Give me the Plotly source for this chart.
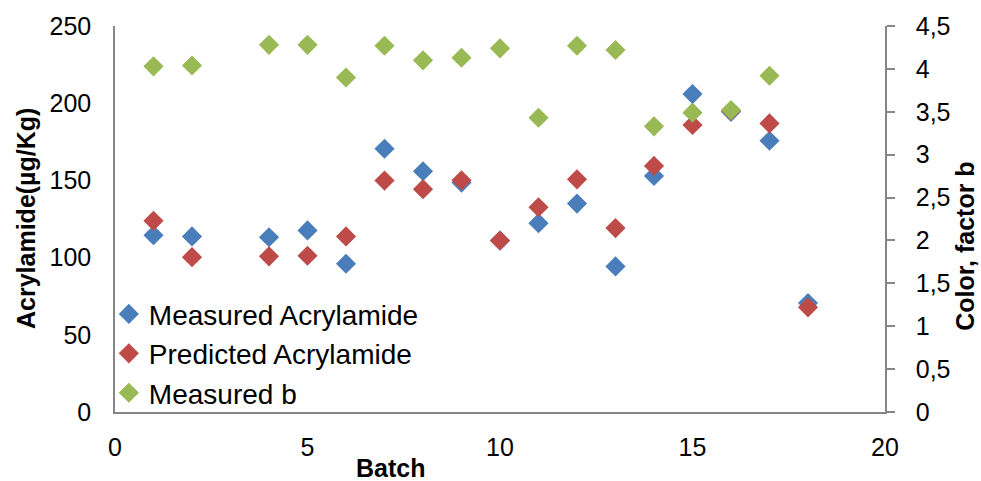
import plotly.graph_objects as go

# Batch numbers (batch 3 was not analysed)
batch = [1, 2, 4, 5, 6, 7, 8, 9, 10, 11, 12, 13, 14, 15, 16, 17, 18]
measured_acrylamide = [114.5, 113.7, 113.2, 117.6, 96.0, 170.5, 155.9, 148.6, 111.0,
                       122.3, 135.0, 94.3, 152.9, 205.9, 194.4, 175.7, 70.6]
predicted_acrylamide = [123.8, 100.3, 100.8, 101.2, 113.7, 149.9, 144.3, 150.1, 111.1,
                        132.6, 150.7, 119.1, 159.4, 185.9, 195.1, 186.9, 67.8]

# Colour factor b (no reading for batch 18)
batch_b = [1, 2, 4, 5, 6, 7, 8, 9, 10, 11, 12, 13, 14, 15, 16, 17]
measured_b = [4.03, 4.04, 4.28, 4.28, 3.90, 4.27, 4.10, 4.13, 4.24,
              3.43, 4.27, 4.22, 3.33, 3.49, 3.52, 3.92]

FONT = "Liberation Sans, Arial, sans-serif"
AXIS_GREY = "#868686"
MSIZE = 15.5

fig = go.Figure()
fig.add_trace(go.Scatter(
    x=batch, y=measured_acrylamide, mode="markers", name="Measured Acrylamide",
    marker=dict(symbol="diamond", size=MSIZE, color="#4A7EBB", line=dict(width=0)),
))
fig.add_trace(go.Scatter(
    x=batch, y=predicted_acrylamide, mode="markers", name="Predicted Acrylamide",
    marker=dict(symbol="diamond", size=MSIZE, color="#BE4B48", line=dict(width=0)),
))
fig.add_trace(go.Scatter(
    x=batch_b, y=measured_b, mode="markers", name="Measured b", yaxis="y2",
    marker=dict(symbol="diamond", size=MSIZE, color="#98B954", line=dict(width=0)),
))

fig.update_layout(
    width=981, height=481,
    margin=dict(l=115, r=96, t=24, b=69),
    paper_bgcolor="white", plot_bgcolor="white",
    separators=", ",
    font=dict(family=FONT, size=25, color="black"),
    showlegend=True,
    legend=dict(
        x=-0.008, y=0.318, xanchor="left", yanchor="top",
        bgcolor="rgba(0,0,0,0)", borderwidth=0,
        font=dict(family=FONT, size=28, color="black"),
        tracegroupgap=0, itemwidth=30,
    ),
    xaxis=dict(
        range=[0, 20], dtick=5, tick0=0,
        showgrid=False, zeroline=False,
        showline=True, linecolor=AXIS_GREY, linewidth=1.5,
        ticks="", ticklabelstandoff=12,
        tickfont=dict(family=FONT, size=25, color="black"),
    ),
    yaxis=dict(
        range=[0, 250], dtick=50, tick0=0,
        showgrid=False, zeroline=False,
        showline=True, linecolor=AXIS_GREY, linewidth=1.5,
        ticks="", ticklabelstandoff=17,
        tickfont=dict(family=FONT, size=25, color="black"),
    ),
    yaxis2=dict(
        overlaying="y", side="right",
        range=[0, 4.5], dtick=0.5, tick0=0,
        showgrid=False, zeroline=False,
        showline=True, linecolor=AXIS_GREY, linewidth=1.5,
        ticks="outside", ticklen=8, tickcolor=AXIS_GREY, tickwidth=1.5,
        ticklabelstandoff=16,
        tickfont=dict(family=FONT, size=25, color="black"),
    ),
    annotations=[
        dict(text="<b>Batch</b>", xref="paper", yref="paper",
             x=(390 - 115) / 770, y=-(468 - 412) / 388,
             xanchor="center", yanchor="middle", showarrow=False,
             font=dict(family=FONT, size=25, color="black")),
        dict(text="<b>Acrylamide(µg/Kg)</b>", xref="paper", yref="paper",
             x=-(115 - 26) / 770, y=(412 - 218) / 388, textangle=-90,
             xanchor="center", yanchor="middle", showarrow=False,
             font=dict(family=FONT, size=25, color="black")),
        dict(text="<b>Color, factor b</b>", xref="paper", yref="paper",
             x=1 + (965 - 885) / 770, y=(412 - 246) / 388, textangle=-90,
             xanchor="center", yanchor="middle", showarrow=False,
             font=dict(family=FONT, size=25, color="black")),
    ],
)

fig.write_html("out.html")
